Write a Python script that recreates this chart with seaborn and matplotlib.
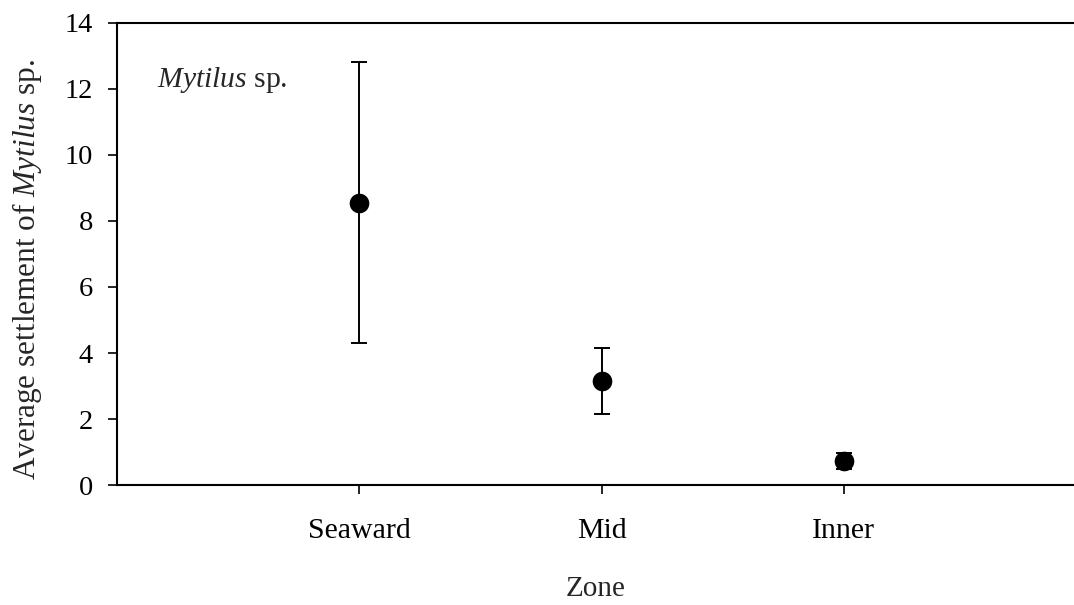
import matplotlib
matplotlib.use("Agg")
import matplotlib.pyplot as plt
import seaborn as sns
import pandas as pd

# Mean settlement per zone with standard error
zones = ["Seaward", "Mid", "Inner"]
mean_settlement = [8.55, 3.15, 0.74]
std_error = [4.25, 1.0, 0.24]
y_ticks = [0, 2, 4, 6, 8, 10, 12, 14]

df = pd.DataFrame({"Zone": zones, "Settlement": mean_settlement, "SE": std_error})

sns.set_style("ticks")
plt.rcParams["font.family"] = ["Liberation Serif", "DejaVu Serif"]
plt.rcParams["mathtext.fontset"] = "custom"
plt.rcParams["mathtext.rm"] = "Liberation Serif"
plt.rcParams["mathtext.it"] = "Liberation Serif:italic"

fig = plt.figure(figsize=(10.74, 6.05), dpi=100)
ax = fig.add_axes([0.109, 0.198, 0.891, 0.7645])

ax.errorbar(range(len(df)), df["Settlement"], yerr=df["SE"], fmt="none",
            ecolor="black", elinewidth=1.4, capsize=5.5, capthick=1.4, zorder=2)
sns.scatterplot(data=df, x="Zone", y="Settlement", ax=ax, color="black",
                s=200, edgecolor="black", linewidth=0, zorder=3)

ax.set_xlim(-1.0, 2.95)
ax.set_ylim(0, 14)
ax.set_yticks(y_ticks)
ax.set_yticklabels([str(t) for t in y_ticks])

for side in ["left", "bottom", "top"]:
    ax.spines[side].set_linewidth(1.5)
    ax.spines[side].set_color("black")
ax.spines["right"].set_visible(False)

ax.tick_params(axis="both", direction="out", length=6.5, width=1.2,
               colors="black")
ax.tick_params(axis="y", pad=11, labelsize=20.5)
ax.tick_params(axis="x", pad=17, labelsize=21.5)

ax.set_xlabel("Zone", fontsize=21, labelpad=23)
ax.set_ylabel(r"Average settlement of $\mathit{Mytilus}$ sp.", fontsize=22.5)
ax.yaxis.set_label_coords(-0.076, 0.467)

ax.text(-0.835, 12.27, r"$\mathit{Mytilus}$ sp.", fontsize=21.3, ha="left", va="center")

fig.savefig("out.png", dpi=100)
